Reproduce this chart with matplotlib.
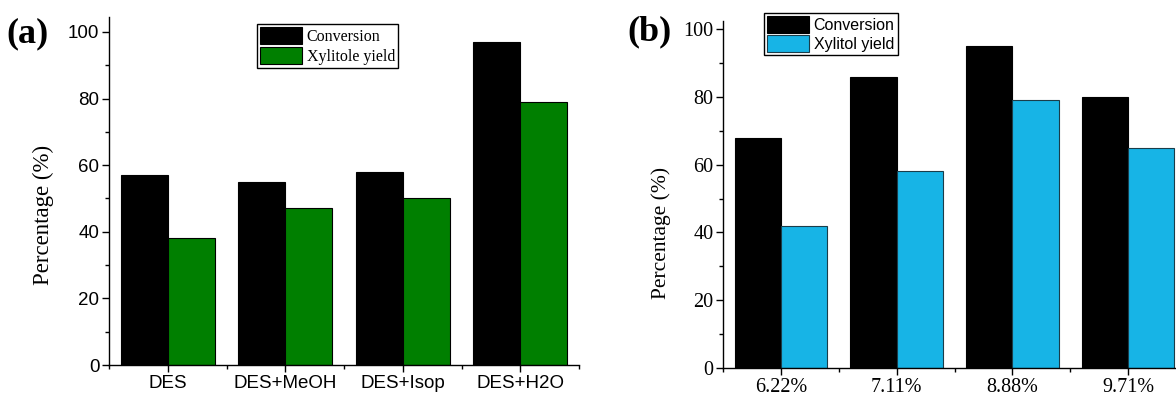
import numpy as np
import matplotlib
matplotlib.use("Agg")
import matplotlib.pyplot as plt
from matplotlib.ticker import MultipleLocator, FixedLocator

# ── panel (a): solvent systems
solvents = ["DES", "DES+MeOH", "DES+Isop", "DES+H2O"]
conv_a = [57, 55, 58, 97]
yield_a = [38, 47, 50, 79]

# ── panel (b): loadings
loadings = ["6.22%", "7.11%", "8.88%", "9.71%"]
conv_b = [68, 86, 95, 80]
yield_b = [42, 58, 79, 65]

W, H = 1176, 396
SANS = "Liberation Sans"
SERIF = "Liberation Serif"
GREEN = "#007f00"
CYAN = "#17b4e6"
BAR_W = 0.4


def px_rect(x0, x1, y_top, y_bot):
    # pixel box -> figure fraction [left, bottom, width, height]
    return [x0 / W, (H - y_bot) / H, (x1 - x0) / W, (y_bot - y_top) / H]


def style_axes(ax, ncat, ymax, tick_font, tick_size):
    ax.set_xlim(-0.5, ncat - 0.5)
    ax.set_ylim(0, ymax)
    for side in ("top", "right"):
        ax.spines[side].set_visible(False)
    for side in ("left", "bottom"):
        ax.spines[side].set_linewidth(1.0)
    ax.yaxis.set_major_locator(MultipleLocator(20))
    ax.yaxis.set_minor_locator(MultipleLocator(10))
    ax.xaxis.set_minor_locator(FixedLocator(np.arange(-0.5, ncat, 1.0)))
    ax.tick_params(which="major", direction="out", length=5, width=1.0,
                   labelsize=tick_size, pad=2)
    ax.tick_params(which="minor", direction="out", length=3, width=1.0)
    for lab in ax.get_xticklabels() + ax.get_yticklabels():
        lab.set_fontfamily(tick_font)


def add_legend(ax, anchor, font, size):
    leg = ax.legend(loc="upper left", bbox_to_anchor=anchor,
                    prop={"family": font, "size": size}, frameon=True,
                    fancybox=False, edgecolor="black", framealpha=1,
                    borderpad=0.2, handlelength=2.6, handleheight=1.2,
                    handletextpad=0.3, labelspacing=0.15, borderaxespad=0)
    leg.get_frame().set_linewidth(1.0)


fig = plt.figure(figsize=(W / 100, H / 100), dpi=100)

# (a) conversion left of each tick, yield right of it
ax1 = fig.add_axes(px_rect(109, 579, 17, 365))
x = np.arange(len(solvents))
ax1.bar(x - BAR_W, conv_a, BAR_W, align="edge", color="black",
        edgecolor="black", linewidth=0.8, label="Conversion")
ax1.bar(x, yield_a, BAR_W, align="edge", color=GREEN,
        edgecolor="black", linewidth=0.8, label="Xylitole yield")
ax1.set_xticks(x)
ax1.set_xticklabels(solvents)
style_axes(ax1, len(x), 104.5, SANS, 13.5)
ax1.set_ylabel("Percentage (%)", fontfamily=SERIF, fontsize=16.5)
ax1.yaxis.set_label_coords(-0.118, 0.43)
add_legend(ax1, ((257 - 109) / 470, 1 - (24 - 17) / 348), SERIF, 11.5)
fig.text(6 / W, 1 - 34 / H, "(a)", fontfamily=SERIF, fontweight="bold",
         fontsize=26, va="center", ha="left")

# (b)
ax2 = fig.add_axes(px_rect(723, 1186, 20.7, 368))
x = np.arange(len(loadings))
ax2.bar(x - BAR_W, conv_b, BAR_W, align="edge", color="black",
        edgecolor="black", linewidth=0.8, label="Conversion")
ax2.bar(x, yield_b, BAR_W, align="edge", color=CYAN, edgecolor="#1a3d4a",
        linewidth=0.8, label="Xylitol yield")
ax2.set_xticks(x)
ax2.set_xticklabels(loadings)
style_axes(ax2, len(x), 102.5, SERIF, 14.5)
ax2.set_ylabel("Percentage (%)", fontfamily=SERIF, fontsize=15.5)
ax2.yaxis.set_label_coords(-0.112, 0.39)
add_legend(ax2, ((764 - 723) / 463, 1 - (13 - 20.7) / 347), SANS, 11.5)
fig.text(627 / W, 1 - 32 / H, "(b)", fontfamily=SERIF, fontweight="bold",
         fontsize=26, va="center", ha="left")

fig.savefig("out.png", dpi=100)
